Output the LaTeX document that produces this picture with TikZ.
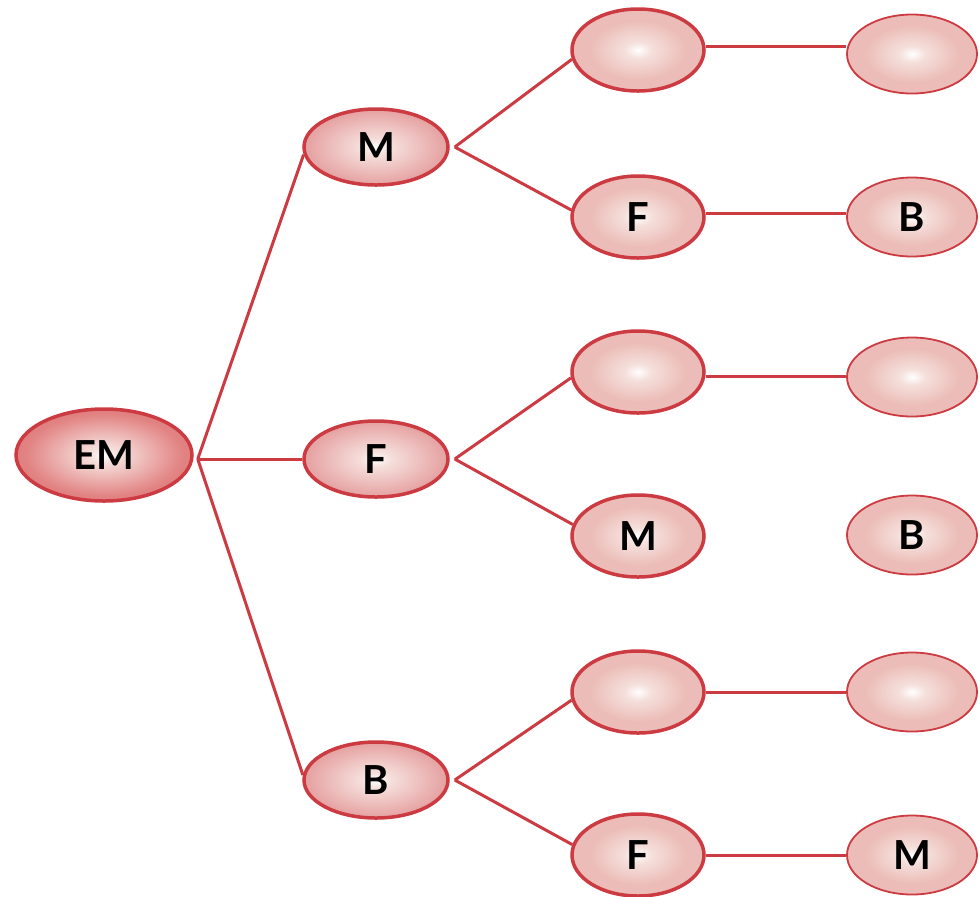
\documentclass[tikz,border=0pt]{standalone}
\usepackage{fontspec}
\setmainfont{Lato}
\usepackage{tikz}
\usetikzlibrary{shapes.geometric}
\definecolor{red1}{HTML}{CC3A42}
\definecolor{emmid}{HTML}{E28484}
\definecolor{emout}{HTML}{D6565F}
\definecolor{lvmid}{HTML}{E6A3A3}
\definecolor{lvout}{HTML}{E29498}
\definecolor{pkin}{HTML}{F5E0DC}
\definecolor{pkmid}{HTML}{ECBDB8}
\definecolor{pkout}{HTML}{F4D8D9}
\pgfdeclareradialshading{emshade}{\pgfpoint{0bp}{0bp}}{color(0bp)=(white); color(4bp)=(pkin); color(22bp)=(emmid); color(44bp)=(emout); color(50bp)=(emout)}
\pgfdeclareradialshading{lvshade}{\pgfpoint{0bp}{0bp}}{color(0bp)=(white); color(5bp)=(pkin); color(24bp)=(lvmid); color(50bp)=(lvout)}
\pgfdeclareradialshading{pkshade}{\pgfpoint{0bp}{0bp}}{color(0bp)=(white); color(5bp)=(pkin); color(18bp)=(pkmid); color(34bp)=(pkmid); color(48bp)=(pkout); color(50bp)=(pkout)}
\tikzset{
  oval/.style={ellipse,draw=red1,inner sep=0pt,font=\fontsize{20}{24}\selectfont\bfseries},
  rootoval/.style={oval,line width=1.75pt,shading=emshade,minimum width=88pt,minimum height=46pt},
  oneoval/.style={oval,line width=1.75pt,shading=lvshade,minimum width=72pt,minimum height=38pt},
  twooval/.style={oval,line width=1.75pt,shading=pkshade,minimum width=66pt,minimum height=41pt},
  threeoval/.style={oval,line width=0.9pt,shading=pkshade,minimum width=65pt,minimum height=39.5pt},
  link/.style={draw=red1,line width=1.5pt}
}
\begin{document}
\begin{tikzpicture}[x=0.5pt,y=-0.5pt]
\useasboundingbox (0,0) rectangle (980,896);
\node[rootoval] (EM) at (104,455) {EM};
\node[oneoval] (M1) at (376,147) {M};
\node[oneoval] (F1) at (376,459) {F};
\node[oneoval] (B1) at (376,780) {B};
\node[twooval] (M1a) at (638,50) {};
\node[twooval] (M1b) at (638,217) {F};
\node[twooval] (F1a) at (638,372) {};
\node[twooval] (F1b) at (638,536) {M};
\node[twooval] (B1a) at (638,692) {};
\node[twooval] (B1b) at (638,855) {F};
\node[threeoval] (M1a3) at (912,54) {};
\node[threeoval] (M1b3) at (912,217) {B};
\node[threeoval] (F1a3) at (912,377) {};
\node[threeoval] (F1b3) at (912,535) {B};
\node[threeoval] (B1a3) at (912,692) {};
\node[threeoval] (B1b3) at (912,855) {M};
%
\coordinate (EMfork) at ([xshift=2pt]EM.east |- F1.west);
\draw[link] (EMfork) -- (M1.186);
\draw[link] (EMfork) -- (F1.west);
\draw[link] (EMfork) -- (B1.176);
\coordinate (M1fork) at ([xshift=2.5pt]M1.east);
\coordinate (F1fork) at ([xshift=2.5pt]F1.east);
\coordinate (B1fork) at ([xshift=2.5pt]B1.east);
\draw[link] (M1fork) -- (M1a.188);
\draw[link] (M1fork) -- (M1b.174);
\draw[link] (F1fork) -- (F1a.185);
\draw[link] (F1fork) -- (F1b.170);
\draw[link] (B1fork) -- (B1a.187);
\draw[link] (B1fork) -- (B1b.171);
%
\draw[link] ([yshift=2pt]M1a.east) -- ([yshift=2pt]M1a.east -| M1a3.west);
\draw[link] ([yshift=2pt]M1b.east) -- ([yshift=2pt]M1b.east -| M1b3.west);
\draw[link] ([yshift=-2pt]F1a.east) -- ([yshift=-2pt]F1a.east -| F1a3.west);
\draw[link] (B1a.east) -- (B1a3.west);
\draw[link] (B1b.east) -- (B1b3.west);
\end{tikzpicture}
\end{document}
